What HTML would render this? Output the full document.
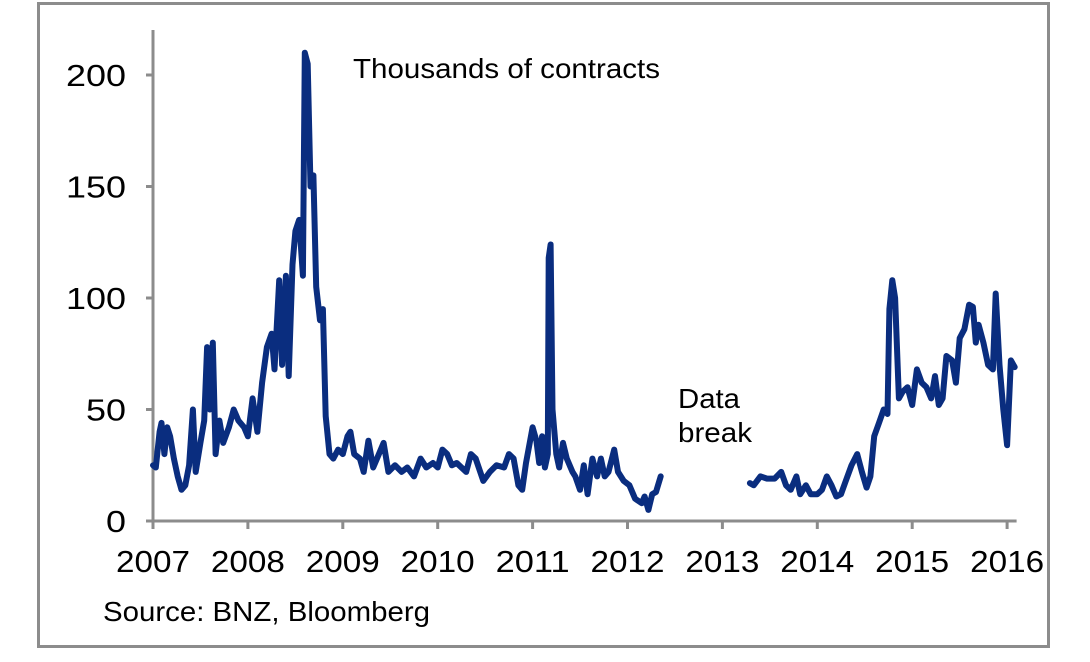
<!DOCTYPE html>
<html><head><meta charset="utf-8"><style>
html,body{margin:0;padding:0;background:#fff;}
svg{display:block;font-family:"Liberation Sans",Arial,sans-serif;}
</style></head><body>
<svg id="chart" width="1090" height="662" viewBox="0 0 1090 662">
<rect x="38.5" y="3.5" width="1010" height="643" fill="#fff" stroke="#8c8c8c" stroke-width="3"/>
<g id="axes"></g>
<g id="series"></g>
<text x="353" y="78" font-size="28" textLength="307" lengthAdjust="spacingAndGlyphs" fill="#000">Thousands of contracts</text>
<text x="678" y="408" font-size="28" textLength="62" lengthAdjust="spacingAndGlyphs" fill="#000">Data</text>
<text x="678" y="442" font-size="28" textLength="74" lengthAdjust="spacingAndGlyphs" fill="#000">break</text>
<text x="103" y="621" font-size="28" textLength="327" lengthAdjust="spacingAndGlyphs" fill="#000">Source: BNZ, Bloomberg</text>
</svg>
<script>
const yTicks = [0, 50, 100, 150, 200];
const xTicks = [2007, 2008, 2009, 2010, 2011, 2012, 2013, 2014, 2015, 2016];
const seg1Dates = [2007.00,2007.03,2007.07,2007.09,2007.12,2007.15,2007.18,2007.22,2007.26,2007.30,2007.34,2007.38,2007.42,2007.45,2007.50,2007.54,2007.57,2007.60,2007.63,2007.66,2007.70,2007.74,2007.80,2007.85,2007.90,2007.96,2008.00,2008.05,2008.10,2008.15,2008.20,2008.25,2008.28,2008.33,2008.36,2008.40,2008.43,2008.47,2008.50,2008.54,2008.58,2008.60,2008.63,2008.66,2008.69,2008.72,2008.76,2008.79,2008.82,2008.86,2008.90,2008.95,2009.00,2009.05,2009.08,2009.12,2009.18,2009.22,2009.27,2009.32,2009.38,2009.43,2009.48,2009.55,2009.62,2009.68,2009.75,2009.82,2009.88,2009.95,2010.00,2010.05,2010.10,2010.15,2010.20,2010.30,2010.35,2010.40,2010.48,2010.55,2010.62,2010.70,2010.75,2010.80,2010.85,2010.89,2010.93,2011.00,2011.04,2011.07,2011.10,2011.13,2011.16,2011.17,2011.19,2011.21,2011.25,2011.28,2011.32,2011.36,2011.42,2011.45,2011.50,2011.54,2011.58,2011.63,2011.68,2011.72,2011.76,2011.80,2011.86,2011.90,2011.96,2012.02,2012.08,2012.15,2012.18,2012.22,2012.26,2012.30,2012.35];
const seg1Values = [25,24,40,44,30,42,38,28,20,14,16,25,50,22,35,45,78,50,80,30,45,35,42,50,45,42,38,55,40,62,78,84,68,108,70,110,65,115,130,135,110,210,205,150,155,105,90,95,47,30,28,32,30,38,40,30,28,22,36,24,30,35,22,25,22,24,20,28,24,26,24,32,30,25,26,22,30,28,18,22,25,24,30,28,16,14,26,42,36,26,38,24,30,118,124,50,30,24,35,28,22,20,14,25,12,28,20,28,20,22,32,22,18,16,10,8,11,5,12,13,20];
const seg2Dates = [2013.29,2013.33,2013.40,2013.47,2013.55,2013.62,2013.67,2013.72,2013.78,2013.82,2013.88,2013.93,2014.00,2014.05,2014.10,2014.15,2014.20,2014.25,2014.30,2014.36,2014.42,2014.47,2014.52,2014.56,2014.60,2014.65,2014.70,2014.74,2014.76,2014.79,2014.82,2014.86,2014.90,2014.95,2015.00,2015.05,2015.10,2015.15,2015.20,2015.24,2015.28,2015.32,2015.36,2015.42,2015.46,2015.50,2015.55,2015.60,2015.64,2015.67,2015.70,2015.75,2015.80,2015.85,2015.88,2015.92,2015.96,2016.00,2016.04,2016.08];
const seg2Values = [17,16,20,19,19,22,16,14,20,12,16,12,12,14,20,16,11,12,18,25,30,22,15,20,38,44,50,48,95,108,100,55,58,60,52,68,62,60,55,65,52,55,74,72,62,82,86,97,96,80,88,80,70,68,102,70,50,34,72,69];

const X0 = 153, XW = 94.9, Y0 = 521, YK = 2.23;
const xScale = d => X0 + (d - 2007) * XW;
const yScale = v => Y0 - v * YK;
const NS = 'http://www.w3.org/2000/svg';
const axes = document.getElementById('axes');
const series = document.getElementById('series');
function mk(tag, attrs, parent) { const e = document.createElementNS(NS, tag); for (const k in attrs) e.setAttribute(k, attrs[k]); parent.appendChild(e); return e; }

let ya = mk('line', {x1: X0, y1: 30, x2: X0, y2: Y0, stroke: '#8c8c8c', 'stroke-width': 3}, axes);


let xa = mk('line', {x1: X0 - 1.5, y1: Y0, x2: xScale(2016.1), y2: Y0, stroke: '#8c8c8c', 'stroke-width': 3}, axes);



yTicks.forEach(v => {
  const t = mk('line', {x1: X0 - 7, y1: yScale(v), x2: X0, y2: yScale(v), stroke: '#8c8c8c', 'stroke-width': 3}, axes);
  
  
  const l = mk('text', {x: 126, y: yScale(v) + 11, 'font-size': 31, 'text-anchor': 'end', lengthAdjust: 'spacingAndGlyphs', fill: '#000'}, axes);
  l.textContent = v;
  l.setAttribute('textLength', String(v).length * 20);
  
  
});
xTicks.forEach(d => {
  const t = mk('line', {x1: xScale(d), y1: Y0, x2: xScale(d), y2: Y0 + 8, stroke: '#8c8c8c', 'stroke-width': 3}, axes);
  
  
  const l = mk('text', {x: xScale(d), y: 572, 'font-size': 31, 'text-anchor': 'middle', textLength: 74, lengthAdjust: 'spacingAndGlyphs', fill: '#000'}, axes);
  l.textContent = d;
  
  
});
function drawSeg(dates, vals, name) {
  const d = dates.map((t, i) => (i ? 'L' : 'M') + xScale(t).toFixed(1) + ',' + yScale(vals[i]).toFixed(1)).join(' ');
  const p = mk('path', {d: d, fill: 'none', stroke: '#0a2d7f', 'stroke-width': 6, 'stroke-linejoin': 'round', 'stroke-linecap': 'round'}, series);
  
  
}
drawSeg(seg1Dates, seg1Values, 'contracts-line-2007-2012');
drawSeg(seg2Dates, seg2Values, 'contracts-line-2013-2016');
</script>
</body></html>
